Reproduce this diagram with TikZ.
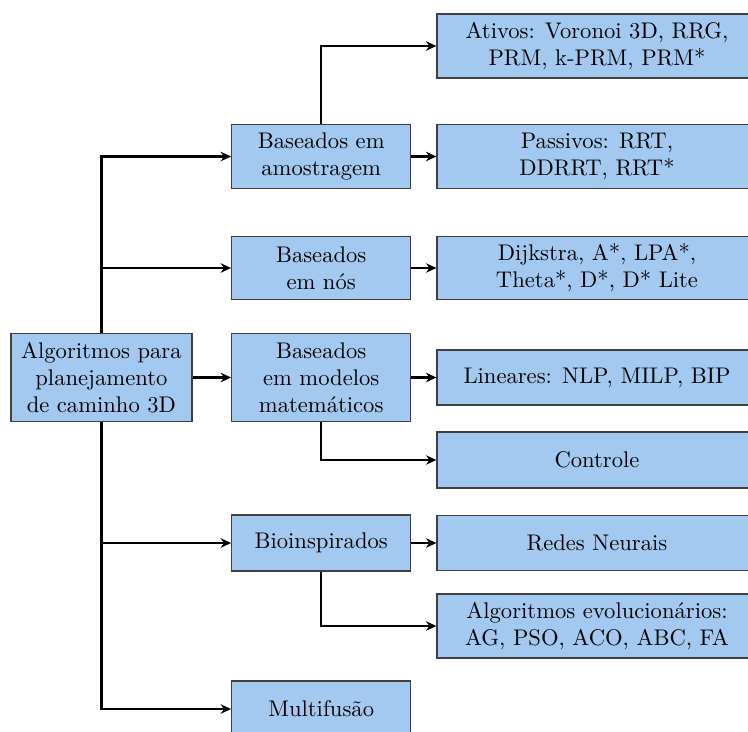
\documentclass[tikz,border=0pt]{standalone}
\usetikzlibrary{arrows.meta}
\definecolor{boxblue}{RGB}{163,201,241}
\def\pxu{0.442pt}
\begin{document}
\sfcode`\:=2000 \sfcode`\,=1250 \sfcode`\.=3000
\begin{tikzpicture}[x=\pxu, y=-\pxu]
\tikzset{
  box/.style={draw=black!75, fill=boxblue, line width=0.55pt, align=center, inner sep=0pt},
  rootbox/.style={box, minimum width=181*\pxu},
  midbox/.style={box, minimum width=179*\pxu},
  leafbox/.style={box, minimum width=320*\pxu},
  link/.style={line width=1pt, -{Stealth[length=4.6pt,width=4.2pt]}}
}
\useasboundingbox (0,0) rectangle (748,731);

% root
\node[rootbox, minimum height=88*\pxu] (root) at (101.4,377.5) {Algoritmos para\\planejamento\\de caminho 3D};

% middle column
\node[midbox, minimum height=64*\pxu] (s1) at (321.2,156.5) {Baseados em\\amostragem};
\node[midbox, minimum height=63*\pxu] (s2) at (321.2,268) {Baseados\\em nós};
\node[midbox, minimum height=88*\pxu] (s3) at (321.2,377.5) {Baseados\\em modelos\\matemáticos};
\node[midbox, minimum height=56*\pxu] (s4) at (321.2,543) {Bioinspirados};
\node[midbox, minimum height=56*\pxu] (s5) at (321.2,709) {Multifusão};

% right column
\node[leafbox, minimum height=64*\pxu] (a1) at (597,46) {Ativos: Voronoi 3D, RRG,\\PRM, k-PRM, PRM*};
\node[leafbox, minimum height=64*\pxu] (a2) at (597,156.5) {Passivos: RRT,\\DDRRT, RRT*};
\node[leafbox, minimum height=63*\pxu] (a3) at (597,268) {Dijkstra, A*, LPA*,\\Theta*, D*, D* Lite};
\node[leafbox, minimum height=55*\pxu] (a4) at (597,377.5) {Lineares: NLP, MILP, BIP};
\node[leafbox, minimum height=56*\pxu] (a5) at (597,460) {Controle};
\node[leafbox, minimum height=55*\pxu] (a6) at (597,543) {Redes Neurais};
\node[leafbox, minimum height=64*\pxu] (a7) at (597,626) {Algoritmos evolucionários:\\AG, PSO, ACO, ABC, FA};

% connectors from the root
\draw[link] (root.north) |- (s1.west);
\draw[link] (root.north) |- (s2.west);
\draw[link] (root.east) -- (s3.west);
\draw[link] (root.south) |- (s4.west);
\draw[link] (root.south) |- (s5.west);

% connectors to the leaves
\draw[link] (s1.north) |- (a1.west);
\draw[link] (s1.east) -- (a2.west);
\draw[link] (s2.east) -- (a3.west);
\draw[link] (s3.east) -- (a4.west);
\draw[link] (s3.south) |- (a5.west);
\draw[link] (s4.east) -- (a6.west);
\draw[link] (s4.south) |- (a7.west);
\end{tikzpicture}
\end{document}
